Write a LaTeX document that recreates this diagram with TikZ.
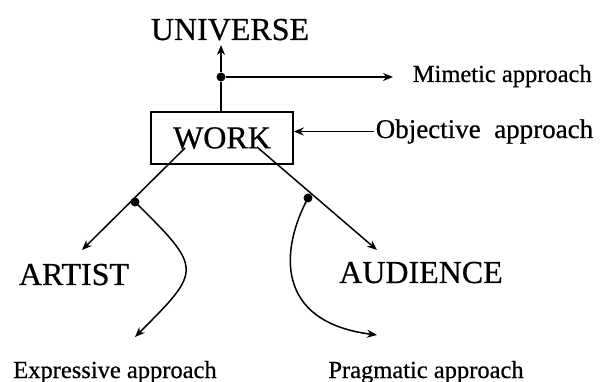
\documentclass[tikz,border=0pt]{standalone}
\usepackage{fontspec}
\setmainfont{Liberation Serif}[FakeBold=0.6]
\usetikzlibrary{arrows.meta}
\begin{document}
\begin{tikzpicture}[x=1pt,y=-1pt,line width=1.5pt,>={Stealth[length=10pt,width=8pt]},
  big/.style={font=\fontsize{32}{36}\selectfont,inner sep=1pt,anchor=base},
  small/.style={font=\fontsize{24.5}{28}\selectfont,inner sep=1pt,anchor=base},
  dot/.style={circle,fill,inner sep=0pt,minimum size=9pt}]
\useasboundingbox (0,0) rectangle (603,382);
\node[big] (univ) at (230,40) {UNIVERSE};
\node[draw,big,anchor=center,minimum width=142pt,minimum height=52pt] (work) at (222,138) {WORK};
\node[big] (artist) at (74,285) {ARTIST};
\node[big] (aud) at (421,283) {AUDIENCE};
\node[small,anchor=base west] (mim) at (411,82) {Mimetic approach};
\node[small,font=\fontsize{27}{30}\selectfont,anchor=base west] (obj) at (374,138) {Objective\ \ approach};
\node[small] (expr) at (115,378) {Expressive approach};
\node[small] (prag) at (426,378) {Pragmatic approach};
% dots and arrow ends
\node[dot] (mdot) at (221,77) {};
\node[dot] (ldot) at (135,202) {};
\node[dot] (rdot) at (308,198) {};
\coordinate (utip) at (221,45);
\coordinate (mtip) at (393,77);
\coordinate (ls) at (185,148);
\coordinate (rs) at (257,147);
\coordinate (ltip) at (82,250);
\coordinate (rtip) at (377,250);
\coordinate (etip) at (135,337);
\coordinate (ptip) at (377,335);
\draw[->] (work.north -| mdot) -- (mdot) -- (utip);
\draw[->] (mdot) -- (mtip);
\draw[->] (obj.west) -- (obj.west -| work.east);
\draw[->] (ls) -- (ltip);
\draw[->] (rs) -- (rtip);
\draw[->] (ldot.center) .. controls (203,269) and (202,270) .. (etip);
\draw[->] (rdot.center) .. controls (280,250) and (275,322) .. (ptip);
\end{tikzpicture}
\end{document}
